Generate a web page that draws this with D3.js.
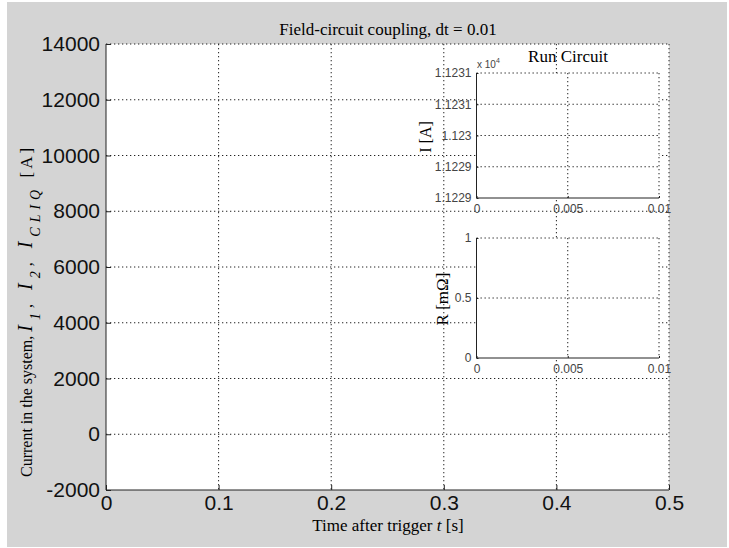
<!DOCTYPE html>
<html>
<head>
<meta charset="utf-8">
<script src="https://cdn.jsdelivr.net/npm/d3@7"></script>
<style>
  body { margin: 0; background: #fff; }
  svg { display: block; }
</style>
</head>
<body>
<div id="chart"></div>
<script>
// main plot: nothing was drawn in it yet, only the axes
var timeTicks = [0, 0.1, 0.2, 0.3, 0.4, 0.5];
var currentTicks = [-2000, 0, 2000, 4000, 6000, 8000, 10000, 12000, 14000];
var currentSeries = [];

// "Run Circuit" insets
var runTimeTicks = [0, 0.005, 0.01];
var runTimeLabels = ["0", "0.005", "0.01"];
var runCurrentTicks = [11229, 11229.5, 11230, 11230.5, 11231];
var runCurrentLabels = ["1.1229", "1.1229", "1.123", "1.1231", "1.1231"];
var runCurrentSeries = [];
var runResistanceTicks = [0, 0.5, 1];
var runResistanceLabels = ["0", "0.5", "1"];
var runResistanceSeries = [];

var W = 729, H = 548;
var sans = "'Liberation Sans', Arial, sans-serif";
var serif = "'Liberation Serif', 'Times New Roman', serif";
var dots = "1.3,2.7";

var svg = d3.select("#chart")
  .append("svg")
  .attr("width", W)
  .attr("height", H);

// figure background
svg.append("rect")
  .attr("x", 7).attr("y", 2)
  .attr("width", W - 9).attr("height", H - 3)
  .attr("fill", "#d4d4d4");

function drawAxes(box, xDomain, yDomain, xTicks, yTicks, xLabels, yLabels, opts) {
  var x = d3.scaleLinear().domain(xDomain).range([box.left, box.right]);
  var y = d3.scaleLinear().domain(yDomain).range([box.bottom, box.top]);
  var g = svg.append("g");

  g.append("rect")
    .attr("x", box.left).attr("y", box.top)
    .attr("width", box.right - box.left).attr("height", box.bottom - box.top)
    .attr("fill", "#fff");

  // grid
  g.append("g").selectAll("line")
    .data(xTicks.slice(1))
    .enter().append("line")
    .attr("x1", d => x(d)).attr("x2", d => x(d))
    .attr("y1", box.top).attr("y2", box.bottom)
    .attr("stroke", "#222").attr("stroke-dasharray", dots);
  g.append("g").selectAll("line")
    .data(yTicks.slice(1))
    .enter().append("line")
    .attr("y1", d => y(d)).attr("y2", d => y(d))
    .attr("x1", box.left).attr("x2", box.right)
    .attr("stroke", "#222").attr("stroke-dasharray", dots);

  var xAxis = d3.axisBottom(x)
    .tickValues(xTicks)
    .tickSize(-opts.tick)
    .tickPadding(opts.xPad)
    .tickFormat((d, i) => xLabels[i]);
  var yAxis = d3.axisLeft(y)
    .tickValues(yTicks)
    .tickSize(-opts.tick)
    .tickPadding(opts.yPad)
    .tickFormat((d, i) => yLabels[i]);

  var gx = g.append("g")
    .attr("transform", "translate(0," + box.bottom + ")")
    .call(xAxis);
  var gy = g.append("g")
    .attr("transform", "translate(" + box.left + ",0)")
    .call(yAxis);

  [gx, gy].forEach(function (a) {
    a.select(".domain").remove();
    a.selectAll(".tick line").attr("stroke", "#222");
    a.selectAll("text")
      .attr("fill", opts.color)
      .style("font-family", sans)
      .style("font-size", opts.font + "px");
  });

  // solid left and bottom lines
  g.append("line")
    .attr("x1", box.left).attr("x2", box.left)
    .attr("y1", box.top).attr("y2", box.bottom)
    .attr("stroke", "#222");
  g.append("line")
    .attr("x1", box.left).attr("x2", box.right)
    .attr("y1", box.bottom).attr("y2", box.bottom)
    .attr("stroke", "#222");

  return { g: g, x: x, y: y };
}

var main = drawAxes({ left: 106, right: 669, top: 44, bottom: 490 },
  [0, 0.5], [-2000, 14000], timeTicks, currentTicks,
  timeTicks.map(String), currentTicks.map(String),
  { tick: 5, xPad: 5, yPad: 6, font: 21, color: "#111" });

main.g.append("path")
  .datum(currentSeries)
  .attr("fill", "none")
  .attr("stroke", "#00f")
  .attr("d", d3.line().x(d => main.x(d.t)).y(d => main.y(d.v)));

var runI = drawAxes({ left: 476.5, right: 659, top: 73, bottom: 198 },
  [0, 0.01], [11229, 11231], runTimeTicks, runCurrentTicks,
  runTimeLabels, runCurrentLabels,
  { tick: 2, xPad: 6, yPad: 5, font: 12, color: "#444" });

runI.g.append("path")
  .datum(runCurrentSeries)
  .attr("fill", "none")
  .attr("stroke", "#00f")
  .attr("d", d3.line().x(d => runI.x(d.t)).y(d => runI.y(d.v)));

var runR = drawAxes({ left: 476.5, right: 659, top: 238, bottom: 358 },
  [0, 0.01], [0, 1], runTimeTicks, runResistanceTicks,
  runTimeLabels, runResistanceLabels,
  { tick: 2, xPad: 6, yPad: 5, font: 12, color: "#444" });

runR.g.append("path")
  .datum(runResistanceSeries)
  .attr("fill", "none")
  .attr("stroke", "#00f")
  .attr("d", d3.line().x(d => runR.x(d.t)).y(d => runR.y(d.v)));

// titles and labels
svg.append("text")
  .attr("x", 388).attr("y", 35)
  .attr("text-anchor", "middle")
  .style("font-family", serif).style("font-size", "17px")
  .text("Field-circuit coupling, dt = 0.01");

var xl = svg.append("text")
  .attr("x", 388).attr("y", 531)
  .attr("text-anchor", "middle")
  .style("font-family", serif).style("font-size", "17px");
xl.append("tspan").text("Time after trigger ");
xl.append("tspan").style("font-style", "italic").text("t");
xl.append("tspan").text(" [s]");

// TeX label, the math part is set wide like the original
var yl = svg.append("text")
  .attr("transform", "translate(32,477) rotate(-90)")
  .style("font-family", serif).style("font-size", "16px");
yl.append("tspan").text("Current in the system, ");
function mathI(sub, last) {
  yl.append("tspan").style("font-style", "italic").style("font-size", "20px")
    .style("letter-spacing", "5px").text("I");
  yl.append("tspan").attr("baseline-shift", "sub").style("font-size", "14px")
    .style("font-style", "italic").style("letter-spacing", "5px").text(sub);
  if (!last) yl.append("tspan").style("letter-spacing", "5px").text(", ");
}
mathI("1");
mathI("2");
mathI("CLIQ", true);
yl.append("tspan").style("font-size", "17px").style("letter-spacing", "3px").text(" [A]");

svg.append("text")
  .attr("x", 568).attr("y", 62)
  .attr("text-anchor", "middle")
  .style("font-family", serif).style("font-size", "17px")
  .text("Run Circuit");

var ex = svg.append("text")
  .attr("x", 477).attr("y", 68)
  .attr("fill", "#444")
  .style("font-family", sans).style("font-size", "10px");
ex.append("tspan").text("x 10");
ex.append("tspan").attr("dy", -5).style("font-size", "7px").text("4");

svg.append("text")
  .attr("transform", "translate(431,137) rotate(-90)")
  .attr("text-anchor", "middle")
  .style("font-family", serif).style("font-size", "16px")
  .text("I [A]");

svg.append("text")
  .attr("transform", "translate(448,299) rotate(-90)")
  .attr("text-anchor", "middle")
  .style("font-family", serif).style("font-size", "17px")
  .text("R [m\u03a9]");
</script>
</body>
</html>
